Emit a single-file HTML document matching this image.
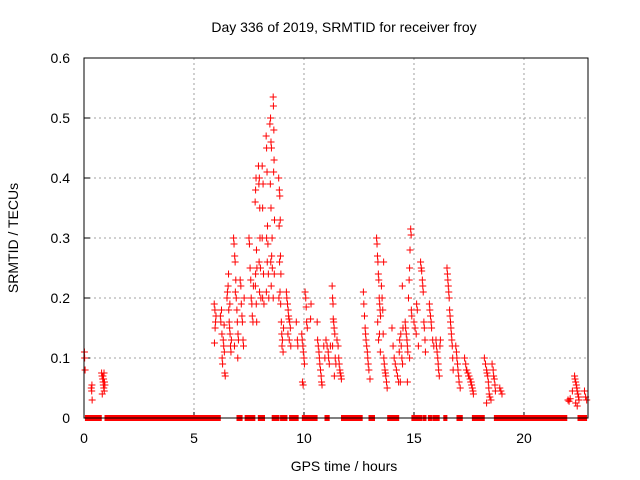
<!DOCTYPE html>
<html><head><meta charset="utf-8"><style>
body{margin:0;background:#fff;}
svg{display:block;font-family:"Liberation Sans",sans-serif;}
</style></head><body>
<svg id="chart" width="640" height="480" xmlns="http://www.w3.org/2000/svg">
<rect width="640" height="480" fill="#fff"/>
<text x="344" y="32" font-size="14" text-anchor="middle" fill="#000">Day 336 of 2019, SRMTID for receiver froy</text>
<text x="344" y="471" font-size="14" text-anchor="middle" fill="#000">GPS time / hours</text>
<text transform="translate(18,238) rotate(-90)" font-size="14" text-anchor="middle" fill="#000">SRMTID / TECUs</text>
<g id="grid"></g>
<g id="ticks"></g>
<g id="marks"></g>
<rect x="84" y="58" width="504" height="360" fill="none" stroke="#000" stroke-width="1"/>
</svg>
<script>
const xTicks = [0, 5, 10, 15, 20];
const yTicks = [0, 0.1, 0.2, 0.3, 0.4, 0.5, 0.6];
const yTickLabels = ["0", "0.1", "0.2", "0.3", "0.4", "0.5", "0.6"];
const zeroRunStarts = [0.11, 1.0, 6.0, 7.0, 7.37, 7.97, 8.6, 8.98, 9.39, 9.97, 11.0, 11.75, 13.0, 13.85, 14.95, 15.45, 15.7, 15.9, 16.4, 17.0, 17.7, 18.7, 22.5];
const zeroRunEnds   = [0.74, 5.9, 6.15, 7.14, 7.72, 8.16, 8.82, 9.18, 9.69, 10.55, 11.1, 12.6, 13.16, 14.26, 15.3, 15.5, 15.75, 16.1, 16.45, 17.15, 18.15, 21.9, 22.8];
const times = [
0.02,0.03,0.05, 0.33,0.35,0.37,0.36, 0.8,0.82,0.85,0.87,0.88,0.9,0.92,0.83,0.86,0.93,0.95,0.89,0.91,
5.92,5.95,5.98,5.96,5.93,6.0, 6.2,6.22,6.25,6.28,6.3,6.33,6.35,6.38,6.4,6.42,6.27,6.37,
6.5,6.52,6.55,6.58,6.6,6.62,6.64,6.66,6.68,6.7,6.57,6.63,
6.8,6.82,6.85,6.87,6.9,6.92,6.95,6.97,7.0,7.02,6.84,6.99,6.88,
7.1,7.13,7.15,7.18,7.2,7.23,7.25,7.28, 7.5,7.52,7.55,7.58,7.6,7.63,7.65,7.68,7.7,
7.78,7.8,7.82,7.84,7.86,7.8,7.83,7.85,7.79, 7.93,7.95,7.97,7.99,8.0,8.02,7.96,8.04,7.98,
8.1,8.12,8.14,8.1,8.16,8.12,8.18, 8.28,8.3,8.32,8.34,8.3,8.36,8.33,8.38,8.29,8.4,
8.45,8.48,8.5,8.52,8.47,8.5,8.55,8.53,8.49,8.56,8.51, 8.6,8.61,8.63,8.64,8.62,8.66,8.65,8.6,
8.85,8.88,8.9,8.92,8.87,8.93,8.89,8.95,8.91,8.86,8.94,8.97,8.99, 9.02,9.05,9.0,9.07,
9.2,9.22,9.25,9.28,9.3,9.32,9.35,9.38,9.27,9.33,9.4, 9.65,9.7,9.72,
9.9,9.92,9.95,9.97,10.0,10.02,9.93,9.96,10.05,10.08, 10.1,10.12,10.15, 10.3,10.32,
10.6,10.62,10.65,10.68,10.7,10.72,10.75,10.78,10.8,10.82,10.9,10.95,
11.0,11.05,11.1,11.12,11.15,11.2, 11.28,11.3,11.32,11.33,11.35,11.37,11.4,11.3,11.42,11.45,11.38,
11.5,11.55,11.58,11.6,11.63,11.65,11.68,11.7,
12.7,12.72,12.75,12.78,12.8,12.82,12.85,12.88,12.9,12.92,12.95,13.0,
13.3,13.32,13.34,13.36,13.38,13.4,13.42,13.44,13.46,13.48,13.35,13.43,13.39,13.47,
13.52,13.55,13.58,13.6,13.63,13.65,13.68,13.7,13.72,13.75,13.78,13.62,
14.0,14.05,14.1,14.15,14.2,14.25,14.3,14.35,14.4,14.42,14.45,14.48,14.5,14.33,14.38,14.47,
14.6,14.62,14.65,14.68,14.7,14.72,14.75,14.78,14.8,14.82,14.85,14.87,14.8,14.7,14.88,14.9,
15.0,15.05,15.1,15.12,15.15,15.2, 15.3,15.33,15.35,15.38,15.4,15.42,15.45,15.47,15.5,15.52,
15.7,15.72,15.75,15.78,15.8,15.85,15.9, 16.0,16.02,16.05,16.08,16.1,16.12,16.15,16.18,16.2,
16.5,16.52,16.54,16.56,16.58,16.6,16.62,16.64,16.66,16.68,16.7,16.72,16.74,16.76,16.78,
16.9,16.93,16.95,16.98,17.0,17.03,17.05,17.1,
17.3,17.35,17.4,17.45,17.5,17.55,17.6,17.62,17.65,17.68,17.7,17.38,17.48,17.58,
18.2,18.25,18.3,18.32,18.35,18.38,18.4,18.42,18.45,18.5,18.3,18.55,18.6,18.62,18.65,18.68,18.7,
18.9,18.95,19.0,
22.0,22.05,22.1,22.2, 22.3,22.32,22.35,22.38,22.4,22.42,22.45,22.48,22.5,22.35,22.42,
22.75,22.8,22.85
];
const values = [
0.11,0.1,0.08, 0.05,0.045,0.03,0.055, 0.075,0.07,0.065,0.06,0.055,0.05,0.045,0.04,0.07,0.06,0.055,0.065,0.075,
0.19,0.18,0.16,0.15,0.125,0.17, 0.17,0.16,0.18,0.1,0.09,0.13,0.12,0.11,0.075,0.07,0.14,0.155,
0.2,0.21,0.22,0.18,0.16,0.15,0.14,0.12,0.11,0.13,0.24,0.19,
0.3,0.29,0.27,0.26,0.23,0.2,0.18,0.16,0.14,0.13,0.12,0.1,0.21,
0.23,0.22,0.19,0.17,0.16,0.13,0.12,0.2, 0.3,0.29,0.25,0.23,0.2,0.19,0.17,0.16,0.22,
0.36,0.38,0.4,0.28,0.25,0.24,0.19,0.16,0.22, 0.42,0.39,0.4,0.35,0.3,0.25,0.26,0.2,0.21,
0.42,0.35,0.39,0.3,0.24,0.2,0.19, 0.47,0.45,0.41,0.32,0.3,0.29,0.26,0.24,0.21,0.2,
0.49,0.5,0.46,0.45,0.39,0.35,0.3,0.27,0.26,0.25,0.22, 0.535,0.52,0.48,0.43,0.41,0.33,0.24,0.2,
0.4,0.38,0.37,0.33,0.32,0.27,0.26,0.24,0.21,0.2,0.19,0.16,0.14, 0.13,0.11,0.12,0.15,
0.21,0.2,0.19,0.18,0.17,0.165,0.16,0.15,0.14,0.13,0.12, 0.16,0.13,0.12,
0.14,0.13,0.12,0.11,0.1,0.09,0.06,0.055,0.21,0.2, 0.185,0.16,0.15, 0.165,0.19,
0.16,0.13,0.12,0.11,0.1,0.09,0.08,0.07,0.06,0.055,0.12,0.1,
0.13,0.12,0.11,0.1,0.09,0.12, 0.22,0.2,0.19,0.165,0.16,0.15,0.14,0.12,0.1,0.09,0.07,
0.13,0.12,0.1,0.09,0.08,0.075,0.07,0.065,
0.21,0.19,0.17,0.15,0.14,0.13,0.12,0.11,0.1,0.09,0.08,0.065,
0.3,0.29,0.27,0.26,0.24,0.23,0.2,0.19,0.18,0.17,0.16,0.14,0.13,0.11,
0.22,0.2,0.18,0.14,0.1,0.09,0.08,0.075,0.07,0.06,0.05,0.26,
0.15,0.12,0.1,0.09,0.08,0.07,0.06,0.13,0.14,0.12,0.1,0.09,0.15,0.11,0.06,0.22,
0.16,0.15,0.14,0.13,0.12,0.11,0.2,0.23,0.25,0.28,0.315,0.305,0.1,0.06,0.18,0.17,
0.16,0.15,0.14,0.19,0.18,0.12, 0.26,0.25,0.245,0.23,0.22,0.21,0.16,0.15,0.13,0.11,
0.19,0.18,0.17,0.16,0.15,0.13,0.12, 0.13,0.12,0.11,0.1,0.09,0.08,0.07,0.12,0.13,
0.25,0.24,0.23,0.22,0.21,0.2,0.18,0.17,0.16,0.15,0.14,0.13,0.12,0.1,0.08,
0.12,0.11,0.1,0.09,0.08,0.07,0.06,0.05,
0.1,0.09,0.08,0.075,0.07,0.065,0.06,0.055,0.05,0.045,0.04,0.08,0.07,0.06,
0.1,0.09,0.08,0.075,0.07,0.06,0.05,0.04,0.035,0.03,0.025,0.09,0.08,0.07,0.065,0.055,0.045,
0.05,0.045,0.04,
0.03,0.028,0.032,0.045, 0.07,0.065,0.06,0.055,0.05,0.045,0.04,0.035,0.03,0.025,0.02,
0.045,0.035,0.03
];
const NS = "http://www.w3.org/2000/svg";
const X0 = 84, X1 = 588, Y0 = 418, Y1 = 58, XMAX = 22.91, YMAX = 0.6;
function sx(h){ return X0 + (h / XMAX) * (X1 - X0); }
function sy(v){ return Y0 - (v / YMAX) * (Y0 - Y1); }
function mk(tag, attrs, parent){ const e = document.createElementNS(NS, tag); for (const k in attrs) e.setAttribute(k, attrs[k]); parent.appendChild(e); return e; }
const grid = document.getElementById('grid'), ticks = document.getElementById('ticks'), marks = document.getElementById('marks');
xTicks.forEach(t => {
  const x = sx(t);
  if (t > 0) {
    const g = mk('line', {x1:x, x2:x, y1:Y1, y2:Y0, stroke:'#a0a0a0', 'stroke-dasharray':'2,3'}, grid);
    
    
  }
  const tl = mk('line', {x1:x, x2:x, y1:Y0, y2:Y0-6, stroke:'#000'}, ticks);
  
  
  const lb = mk('text', {x:x, y:443, 'font-size':14, 'text-anchor':'middle', fill:'#000'}, ticks);
  lb.textContent = String(t);
  
  
});
yTicks.forEach((t, i) => {
  const y = sy(t);
  if (t > 0 && t < YMAX) {
    const g = mk('line', {x1:X0, x2:X1, y1:y, y2:y, stroke:'#a0a0a0', 'stroke-dasharray':'2,3'}, grid);
    
    
  }
  const tl = mk('line', {x1:X0, x2:X0+6, y1:y, y2:y, stroke:'#000'}, ticks);
  
  
  const lb = mk('text', {x:70, y:y+5, 'font-size':14, 'text-anchor':'end', fill:'#000'}, ticks);
  lb.textContent = yTickLabels[i];
  
  
});
zeroRunStarts.forEach((s, i) => {
  const a = sx(s), b = sx(zeroRunEnds[i]);
  const r = mk('rect', {x:a-1.5, y:Y0-3, width:(b-a)+3, height:6, fill:'#ff0000'}, marks);
  
  
});
let d = '';
times.forEach((h, i) => {
  const x = sx(h), y = sy(values[i]);
  d += 'M' + (x-3.5) + ' ' + y + 'h7M' + x + ' ' + (y-3.5) + 'v7';
});
const p = mk('path', {d:d, stroke:'#ff0000', 'stroke-width':1, fill:'none'}, marks);


</script>
</body></html>
